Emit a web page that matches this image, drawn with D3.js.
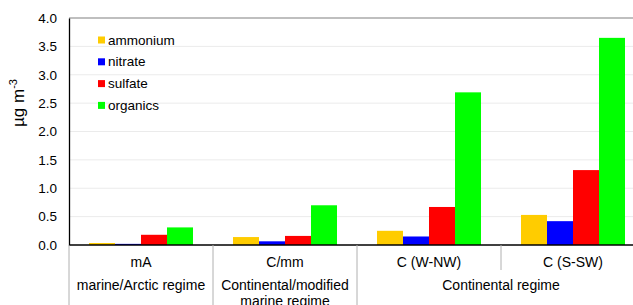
<!DOCTYPE html>
<html>
<head>
<meta charset="utf-8">
<script src="https://cdn.jsdelivr.net/npm/d3@7"></script>
<style>
  body { margin: 0; background: #fff; }
  svg { display: block; font-family: "Liberation Sans", Arial, sans-serif; }
</style>
</head>
<body>
<svg id="chart" width="633" height="305"></svg>
<script>
// data
const categories = ['mA', 'C/mm', 'C (W-NW)', 'C (S-SW)'];
const series = ['ammonium', 'nitrate', 'sulfate', 'organics'];
const ammonium = [0.035, 0.14, 0.25, 0.53];
const nitrate = [0.02, 0.065, 0.15, 0.42];
const sulfate = [0.18, 0.16, 0.67, 1.32];
const organics = [0.31, 0.70, 2.69, 3.65];
const yTicks = [0, 0.5, 1, 1.5, 2, 2.5, 3, 3.5, 4];
const regimes = [
  {lines: ['marine/Arctic regime'], from: 0, to: 0},
  {lines: ['Continental/modified', 'marine regime'], from: 1, to: 1},
  {lines: ['Continental regime'], from: 2, to: 3}
];

const colors = {ammonium: '#ffcc00', nitrate: '#0000ff', sulfate: '#ff0000', organics: '#00ff00'};
const values = {ammonium, nitrate, sulfate, organics};

const svg = d3.select('svg#chart');
const plot = {left: 69, right: 645, top: 18, bottom: 245};

const x = d3.scaleBand().domain(categories).range([plot.left, plot.right]);
const xInner = d3.scaleBand().domain(series).range([20, x.bandwidth() - 20]);
const y = d3.scaleLinear().domain([0, 4]).range([plot.bottom, plot.top]);

// gridlines
svg.append('g')
  .selectAll('line')
  .data(yTicks.filter(d => d > 0 && d < 4)).enter().append('line')
  .attr('x1', plot.left).attr('x2', plot.right)
  .attr('y1', d => y(d)).attr('y2', d => y(d))
  .attr('stroke', '#ebebeb').attr('stroke-width', 1);

// top border
svg.append('line')
  .attr('x1', plot.left).attr('x2', plot.right)
  .attr('y1', y(4)).attr('y2', y(4))
  .attr('stroke', '#aaa').attr('stroke-width', 1.3);

// bars
const groups = svg.append('g').selectAll('g')
  .data(categories).enter().append('g')
  .attr('transform', d => 'translate(' + x(d) + ',0)');

groups.selectAll('rect')
  .data((c, i) => series.map(s => ({s: s, v: values[s][i]})))
  .enter().append('rect')
  .attr('x', d => xInner(d.s))
  .attr('width', xInner.bandwidth())
  .attr('y', d => y(d.v))
  .attr('height', d => y(0) - y(d.v))
  .attr('fill', d => colors[d.s]);

// y axis
const yAxis = svg.append('g')
  .attr('transform', 'translate(' + plot.left + ',0)')
  .call(d3.axisLeft(y).tickValues(yTicks).tickFormat(d3.format('.1f')).tickSize(0).tickPadding(12));
yAxis.select('.domain').attr('stroke', '#000').attr('stroke-width', 1.3);
yAxis.selectAll('text').attr('font-size', 13.5).attr('fill', '#000')
  .attr('font-family', '"Liberation Sans", Arial, sans-serif');

// x baseline
svg.append('line')
  .attr('x1', plot.left).attr('x2', plot.right)
  .attr('y1', plot.bottom).attr('y2', plot.bottom)
  .attr('stroke', '#000').attr('stroke-width', 1.5);

// category dividers
svg.append('g').selectAll('line')
  .data(categories).enter().append('line')
  .attr('x1', d => x(d)).attr('x2', d => x(d))
  .attr('y1', plot.bottom).attr('y2', (d, i) => i === 3 ? 270 : 305)
  .attr('stroke', '#b0b0b0').attr('stroke-width', 1);

// category labels
svg.append('g').selectAll('text')
  .data(categories).enter().append('text')
  .attr('x', d => x(d) + x.bandwidth() / 2)
  .attr('y', 266.5)
  .attr('text-anchor', 'middle')
  .attr('font-size', 14)
  .text(d => d);

// regime labels
regimes.forEach(r => {
  const cx = (x(categories[r.from]) + x(categories[r.to]) + x.bandwidth()) / 2;
  r.lines.forEach((t, j) => {
    svg.append('text')
      .attr('x', cx)
      .attr('y', 290 + j * 16)
      .attr('text-anchor', 'middle')
      .attr('font-size', 14)
      .text(t);
  });
});

// y label
svg.append('text')
  .attr('transform', 'translate(24,103) rotate(-90)')
  .attr('text-anchor', 'middle')
  .attr('font-size', 17)
  .html('µg m<tspan dy="-7" font-size="11">-3</tspan>');

// legend
const legend = svg.append('g').selectAll('g')
  .data(series).enter().append('g')
  .attr('transform', (d, i) => 'translate(98,' + (40 + i * 21.8) + ')');
legend.append('rect')
  .attr('x', 0).attr('y', -3.5)
  .attr('width', 7).attr('height', 7)
  .attr('fill', d => colors[d]);
legend.append('text')
  .attr('x', 10).attr('y', 4.5)
  .attr('font-size', 13.5)
  .text(d => d);
</script>
</body>
</html>
